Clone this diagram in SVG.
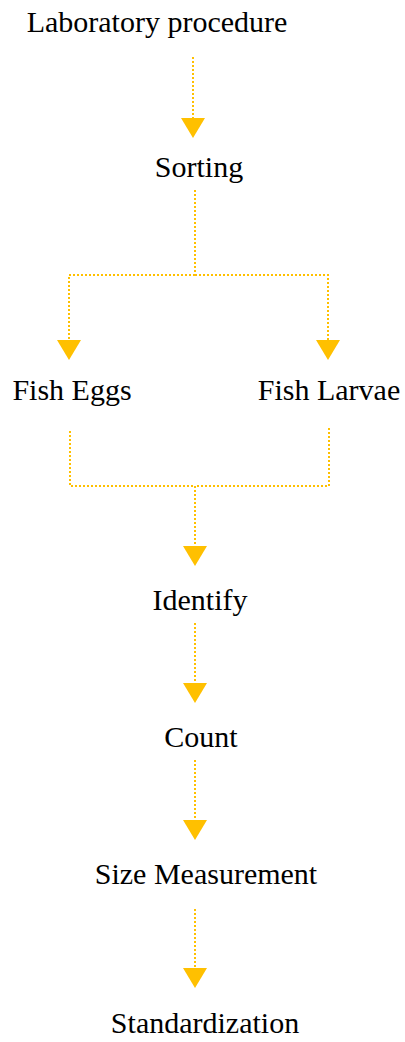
<svg xmlns="http://www.w3.org/2000/svg" width="405" height="1042" viewBox="0 0 405 1042">
<style>
.t{font-family:"Liberation Serif","Times New Roman",serif;font-size:30px;fill:#000;text-anchor:middle}
.c{fill:none;stroke:#FFC000;stroke-width:2;stroke-dasharray:2 2}
</style>
<defs>
<marker id="ah" markerUnits="userSpaceOnUse" markerWidth="20" markerHeight="24" viewBox="0 0 20 24" refX="0" refY="12" orient="auto">
<path d="M0,0 L20,12 L0,24 Z" fill="#FFC000"/>
</marker>
</defs>
<rect width="405" height="1042" fill="#fff"/>
<g id="connectors">
<path class="c" d="M193,57 V118" marker-end="url(#ah)"/>
<path class="c" d="M195,190 V275"/>
<path class="c" d="M195,275 H69 V340" marker-end="url(#ah)"/>
<path class="c" d="M195,275 H328 V340" marker-end="url(#ah)"/>
<path class="c" d="M70,431 V486 H195"/>
<path class="c" d="M329,428 V486 H195"/>
<path class="c" d="M195,486 V546" marker-end="url(#ah)"/>
<path class="c" d="M195,623 V683" marker-end="url(#ah)"/>
<path class="c" d="M195,760 V820" marker-end="url(#ah)"/>
<path class="c" d="M195,909 V968" marker-end="url(#ah)"/>
</g>
<g id="n1"><text class="t" x="157" y="32">Laboratory procedure</text></g>
<g id="n2"><text class="t" x="199" y="177">Sorting</text></g>
<g id="n3"><text class="t" x="72" y="400">Fish Eggs</text></g>
<g id="n4"><text class="t" x="329" y="400">Fish Larvae</text></g>
<g id="n5"><text class="t" x="200" y="610">Identify</text></g>
<g id="n6"><text class="t" x="201" y="747">Count</text></g>
<g id="n7"><text class="t" x="206" y="884">Size Measurement</text></g>
<g id="n8"><text class="t" x="205" y="1033">Standardization</text></g>
</svg>
